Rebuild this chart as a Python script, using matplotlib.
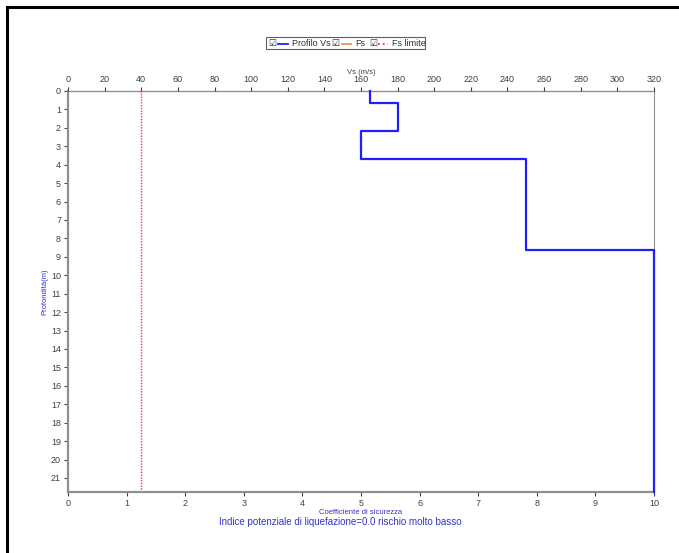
import numpy as np
import matplotlib.pyplot as plt
from matplotlib.lines import Line2D
from matplotlib.patches import Rectangle

plt.rcParams['font.family'] = ['Liberation Sans', 'DejaVu Sans']

# profilo Vs (strati)
depth_top = [0.0, 0.65, 2.15, 3.7, 8.65]
depth_bot = [0.65, 2.15, 3.7, 8.65, 21.76]
vs = [165, 180, 160, 250, 320]

# coefficiente di sicurezza (nessun valore)
fs_depth = []
fs_val = []
fs_limit = 1.25

depth_max = 21.76
y_ticks = list(range(0, 22))
fs_ticks = list(range(0, 11))
vs_ticks = list(range(0, 321, 20))

W, H = 679, 553
fig = plt.figure(figsize=(W / 100, H / 100), dpi=100)

tick_col = '#404040'
spine_col = '#909090'
blue_txt = '#3333cc'

ax = fig.add_axes([68 / W, 1 - 492 / H, (654 - 68) / W, (492 - 91) / H])
ax.set_xlim(0, 10)
ax.set_ylim(depth_max, 0)
ax.set_xticks(fs_ticks)
ax.set_yticks(y_ticks)
ax.tick_params(labelsize=6.5, colors=tick_col, length=3, width=0.8, pad=2)
for s in ax.spines.values():
    s.set_color(spine_col)
ax.spines['left'].set_linewidth(1.6)
ax.spines['bottom'].set_linewidth(1.6)
ax.spines['right'].set_linewidth(0.8)
ax.spines['top'].set_linewidth(1.0)
ax.set_xlabel('Coefficiente di sicurezza', fontsize=5.5, color=blue_txt, labelpad=1)
ax.set_ylabel('Profondità(m)', fontsize=5.5, color=blue_txt, labelpad=2)

ax.plot(fs_val, fs_depth, color='#ff8c3c', lw=1.2)
ax.axvline(fs_limit, color='#ff3040', lw=1, ls=(0, (1, 1)))

ax2 = ax.twiny()
ax2.set_xlim(0, 320)
ax2.set_xticks(vs_ticks)
ax2.tick_params(labelsize=6.5, colors=tick_col, length=3, width=0.8, pad=2)
for s in ax2.spines.values():
    s.set_visible(False)
ax2.set_xlabel('Vs (m/s)', fontsize=5.5, color=tick_col, labelpad=1)

step_x = np.repeat(vs, 2)
step_y = np.ravel(np.column_stack([depth_top, depth_bot]))
ax2.plot(step_x, step_y, color='#2020ff', lw=1.6, clip_on=False)
ax2.set_ylim(depth_max, 0)

fig.text(340 / W, 1 - 522 / H, 'Indice potenziale di liquefazione=0.0 rischio molto basso',
         ha='center', va='center', fontsize=7, color=blue_txt)

# legenda con caselle di spunta
fig.add_artist(Rectangle((266 / W, 1 - 49.5 / H), 159 / W, 12 / H, transform=fig.transFigure,
                         fill=False, ec='#606060', lw=0.8))
items = [(272, 278, 288, 292, 'Profilo Vs', '#2020ff', '-'),
         (335, 342, 351, 355, 'Fs', '#ff8c3c', '-'),
         (373, 378, 388, 392, 'Fs limite', '#ff3040', ':')]
for cb, l0, l1, tx, lab, col, ls in items:
    fig.text(cb / W, 1 - 43.5 / H, '\u2611', fontsize=6.5, color='#303030', ha='center', va='center',
             family='DejaVu Sans')
    fig.add_artist(Line2D([l0 / W, l1 / W], [1 - 43.5 / H, 1 - 43.5 / H], transform=fig.transFigure,
                          color=col, lw=1.3, ls=ls))
    fig.text(tx / W, 1 - 43.5 / H, lab, fontsize=6.5, color='#303030', ha='left', va='center')

# cornice esterna
fig.add_artist(Line2D([7 / W, 7 / W], [0, 1 - 7 / H], transform=fig.transFigure, color='black', lw=2.2))
fig.add_artist(Line2D([7 / W, 1], [1 - 7 / H, 1 - 7 / H], transform=fig.transFigure, color='black', lw=2.2))

fig.savefig('out.png', dpi=100)
